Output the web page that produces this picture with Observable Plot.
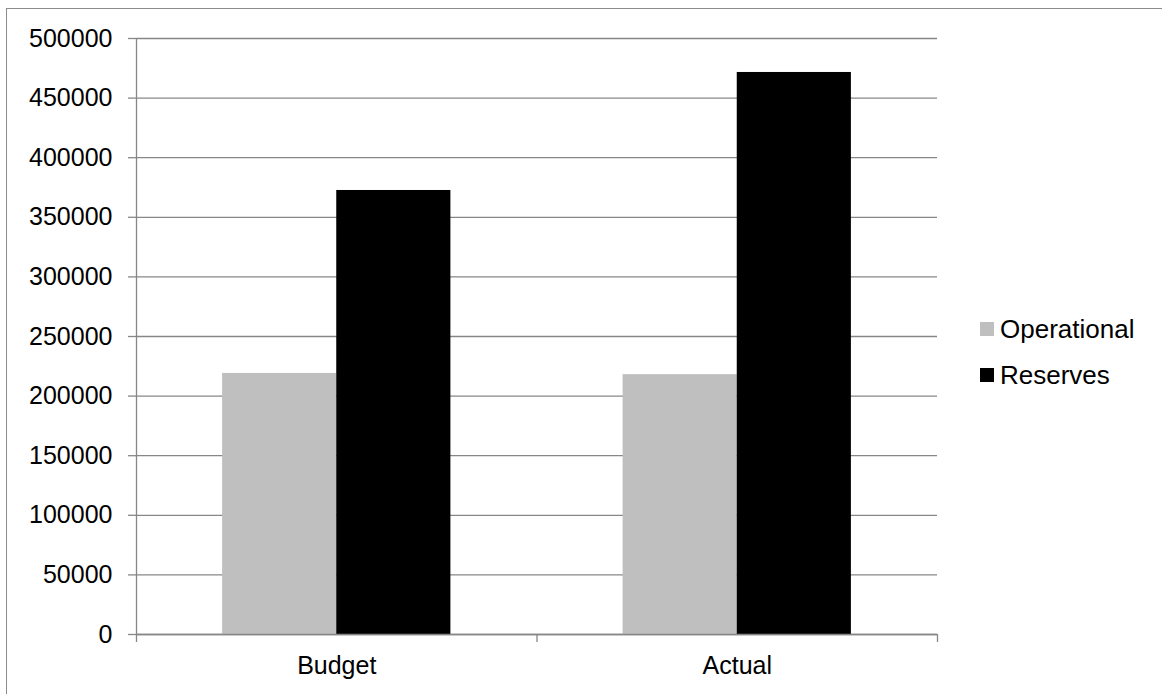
<!DOCTYPE html>
<html>
<head>
<meta charset="utf-8">
<script src="https://cdn.jsdelivr.net/npm/d3@7"></script>
<script src="https://cdn.jsdelivr.net/npm/@observablehq/plot@0.6"></script>
<style>
  html, body { margin: 0; padding: 0; background: #fff; }
  #wrap { position: relative; width: 1162px; height: 694px; overflow: hidden; font-family: "Liberation Sans", Arial, sans-serif; }
  #border { position: absolute; left: 6px; top: 8px; width: 1300px; height: 900px; border: 1.5px solid #8c8c8c; box-sizing: border-box; }
  #chart { position: absolute; left: 0; top: 0; }
  .item { position: absolute; left: 980px; height: 30px; display: flex; align-items: center; font-size: 26px; color: #000; white-space: nowrap; }
  .sw { width: 14px; height: 14px; margin-right: 6px; }
</style>
</head>
<body>
<div id="wrap">
  <div id="border"></div>
  <div id="chart"></div>
</div>
<script>
const categories = ["Budget", "Actual"];
const series = ["Operational", "Reserves"];
const operational = [219000, 218000];
const reserves = [372500, 471500];
const seriesColors = ["#bfbfbf", "#000000"];
const yTicks = [0, 50000, 100000, 150000, 200000, 250000, 300000, 350000, 400000, 450000, 500000];

const values = [operational, reserves];
const data = categories.flatMap((c, i) =>
  series.map((s, j) => ({category: c, i, series: s, j, value: values[j][i]}))
);

const barFrac = 0.285; // bar width as a fraction of each category band
const gridColor = "#878787";

const chart = Plot.plot({
  width: 1162,
  height: 694,
  marginLeft: 136,
  marginRight: 225,
  marginTop: 38,
  marginBottom: 60,
  style: {fontFamily: "Liberation Sans, Arial, sans-serif", fontSize: "25px", background: "transparent", color: "#000"},
  x: {type: "linear", domain: [0, categories.length], label: null},
  y: {domain: [0, 500000], label: null},
  color: {domain: series, range: seriesColors},
  marks: [
    Plot.ruleY(yTicks, {stroke: gridColor, strokeWidth: 1.3}),
    Plot.rectY(data, {
      x1: d => d.i + 0.5 + (d.j - 1) * barFrac,
      x2: d => d.i + 0.5 + d.j * barFrac,
      y: "value",
      fill: "series",
      inset: 0
    }),
    Plot.ruleX([0], {stroke: gridColor, strokeWidth: 1.3}),
    Plot.ruleY([0], {stroke: gridColor, strokeWidth: 1.3}),
    Plot.axisY({ticks: yTicks, tickSize: 8, tickPadding: 16, tickFormat: d => String(d), stroke: gridColor, strokeWidth: 1.3, fill: "#000", fontSize: 25, label: null}),
    Plot.axisX({ticks: d3.range(categories.length + 1), tickSize: 8, tickFormat: () => "", stroke: gridColor, strokeWidth: 1.3, label: null}),
    Plot.axisX({ticks: categories.map((c, i) => i + 0.5), tickSize: 0, tickPadding: 22, tickFormat: v => categories[Math.floor(v)], fill: "#000", fontSize: 25, label: null})
  ]
});
document.getElementById("chart").appendChild(chart);

const wrap = document.getElementById("wrap");
series.forEach((s, j) => {
  const item = document.createElement("div");
  item.className = "item";
  item.style.top = (314 + j * 46) + "px";
  const sw = document.createElement("div");
  sw.className = "sw";
  sw.style.background = seriesColors[j];
  const label = document.createElement("span");
  label.textContent = s;
  item.appendChild(sw);
  item.appendChild(label);
  wrap.appendChild(item);
});
</script>
</body>
</html>
